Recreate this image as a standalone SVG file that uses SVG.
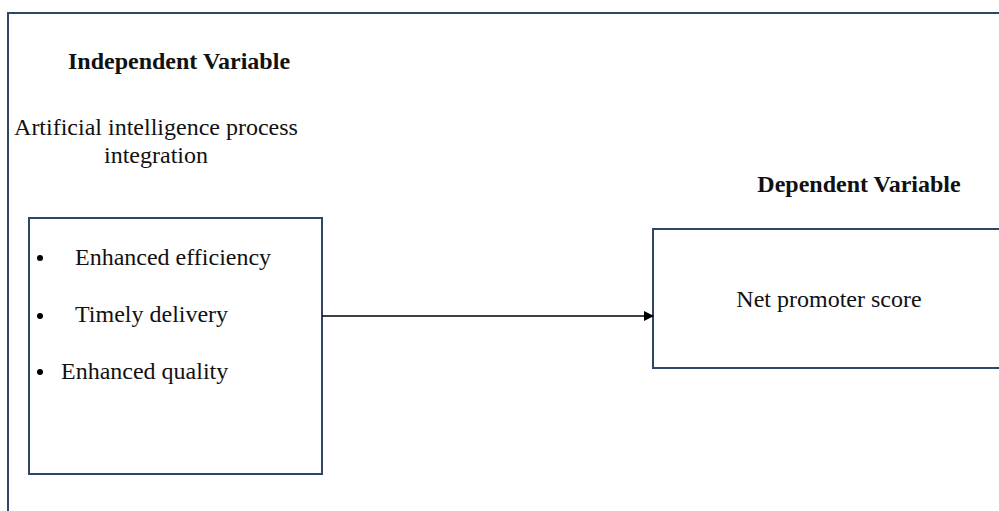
<svg xmlns="http://www.w3.org/2000/svg" width="999" height="511" viewBox="0 0 999 511">
<style>
.frame{fill:none;stroke:#2e4766;stroke-width:2}
.box{fill:#fff;stroke:#2e4766;stroke-width:2}
.t{font-family:"Liberation Serif","Times New Roman",serif;font-size:24px;fill:#111}
.b{font-weight:bold}
.conn{stroke:#000;stroke-width:1.3;fill:none}
</style>
<defs>
<marker id="ah" markerWidth="10" markerHeight="10" refX="9" refY="5" orient="auto" markerUnits="userSpaceOnUse">
<path d="M0,0 L10,5 L0,10 Z" fill="#000"/>
</marker>
</defs>
<rect width="999" height="511" fill="#fff"/>
<rect class="frame" x="8" y="13" width="1000" height="510"/>
<g id="title-independent">
<text class="t b" x="179" y="69" text-anchor="middle">Independent Variable</text>
</g>
<g id="label-ai">
<text class="t" x="156" y="135" text-anchor="middle">Artificial intelligence process</text>
<text class="t" x="156" y="163" text-anchor="middle">integration</text>
</g>
<g id="node-independent">
<rect class="box" x="29" y="218" width="293" height="256"/>
<circle cx="40" cy="258" r="3" fill="#000"/>
<text class="t" x="75" y="265">Enhanced efficiency</text>
<circle cx="40" cy="316" r="3" fill="#000"/>
<text class="t" x="75" y="322">Timely delivery</text>
<circle cx="40" cy="372" r="3" fill="#000"/>
<text class="t" x="61" y="379">Enhanced quality</text>
</g>
<g id="title-dependent">
<text class="t b" x="859" y="192" text-anchor="middle">Dependent Variable</text>
</g>
<g id="node-dependent">
<rect class="box" x="653" y="229" width="360" height="139"/>
<text class="t" x="829" y="307" text-anchor="middle">Net promoter score</text>
</g>
<g id="connectors">
<line class="conn" x1="322" y1="316" x2="653" y2="316" marker-end="url(#ah)"/>
</g>
</svg>
